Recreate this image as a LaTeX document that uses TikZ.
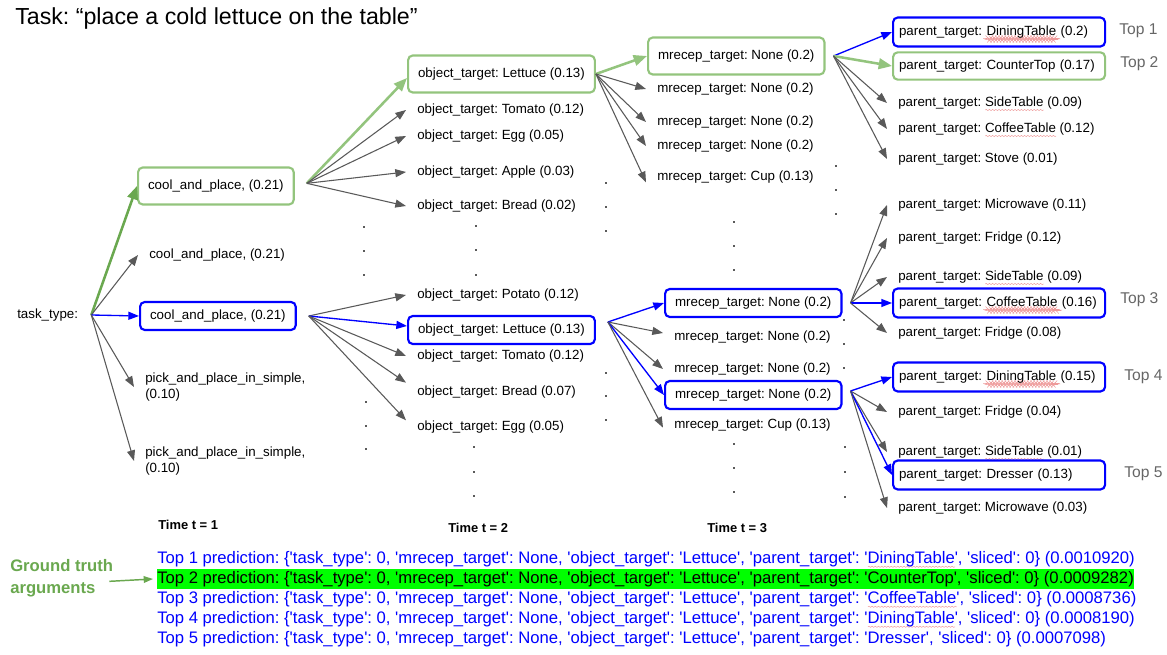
\documentclass[tikz,border=0pt]{standalone}
\usepackage{fontspec}
\setmainfont{Liberation Sans}
\usetikzlibrary{arrows.meta,decorations.pathmorphing}
\definecolor{gbox}{HTML}{93C47D}
\definecolor{gdark}{HTML}{6AA84F}
\definecolor{garr}{HTML}{595959}
\definecolor{dotc}{HTML}{5A5A5A}
\definecolor{topc}{HTML}{666666}
\definecolor{sqred}{HTML}{EE9A9A}
\definecolor{hl}{HTML}{00FF00}
\frenchspacing
\newsavebox\sqbox
\newlength\sqlen
\newcommand\sqw[1]{\leavevmode\sbox\sqbox{#1}\setlength\sqlen{\wd\sqbox}%
  \smash{\rlap{\raisebox{-2.6pt}{\tikz[baseline=0pt]\draw[sqred,line width=0.35pt,decorate,decoration={snake,amplitude=0.45pt,segment length=2.4pt}] (0pt,0pt) -- (\sqlen,0pt);}}}\usebox\sqbox}
\newcommand\qt[1]{\textquotesingle#1\textquotesingle}
\begin{document}
\begin{tikzpicture}[x=0.75pt,y=-0.75pt,
  base/.style={font=\fontsize{10}{12}\selectfont, anchor=west, align=left},
  lbl/.style={base, inner xsep=8.25pt, inner ysep=2pt, text height=7.5pt, text depth=2.2pt},
  lbltwo/.style={base, inner xsep=8.25pt, inner ysep=2pt},
  bx/.style={lbl, inner xsep=7.5pt, rounded corners=3.5pt, line width=1.6pt},
  gb/.style={bx, draw=gbox, minimum height=27.75pt},
  bb/.style={bx, draw=blue, minimum height=21pt},
  pbx/.style={lbl, text width=150pt, inner xsep=4.5pt, rounded corners=3.5pt, line width=1.6pt},
  pb/.style={pbx, draw=blue, minimum height=21.75pt},
  pg/.style={pbx, draw=gbox, minimum height=20.5pt},
  gra/.style={draw=garr, line width=0.8pt, -{Triangle[length=8pt,width=6pt]}},
  bla/.style={draw=blue, line width=1pt, -{Triangle[length=8pt,width=6pt]}},
  ga/.style={draw=gbox, line width=1.9pt, -{Triangle[length=10pt,width=8pt]}},
  gad/.style={draw=gdark, line width=1.9pt, -{Triangle[length=10pt,width=8pt]}},
  timel/.style={font=\bfseries\fontsize{9.7}{12}\selectfont, anchor=west, inner sep=0},
  topl/.style={font=\fontsize{11.7}{14}\selectfont, text=topc, anchor=west, inner sep=0},
  pred/.style={font=\fontsize{12.5}{15}\selectfont, anchor=west, inner xsep=0, inner ysep=1.25pt, text height=9.5pt, text depth=3pt}
]
\useasboundingbox (0,0) rectangle (1167,655);

% title
\node[font=\fontsize{17.4}{20}\selectfont, anchor=base west, inner sep=0] (title) at (15,25) {Task: “place a cold lettuce on the table”};

% column 0/1
\node[lbl, inner xsep=9.75pt] (task) at (4,315) {task\_type:};
\node[gb] (c1g) at (137,186) {cool\_and\_place, (0.21)};
\node[lbl] (c1a) at (138,255) {cool\_and\_place, (0.21)};
\node[bb] (c1b) at (139,316) {cool\_and\_place, (0.21)};
\node[lbltwo] (c1c) at (134,387) {pick\_and\_place\_in\_simple,\\(0.10)};
\node[lbltwo] (c1d) at (134,461) {pick\_and\_place\_in\_simple,\\(0.10)};

% column 2
\node[gb] (o1) at (407,74) {object\_target: Lettuce (0.13)};
\node[lbl] (o2) at (406,110) {object\_target: Tomato (0.12)};
\node[lbl] (o3) at (406,136) {object\_target: Egg (0.05)};
\node[lbl] (o4) at (406,172) {object\_target: Apple (0.03)};
\node[lbl] (o5) at (406,206) {object\_target: Bread (0.02)};
\node[lbl] (o6) at (406,295) {object\_target: Potato (0.12)};
\node[bb] (o7) at (407,330) {object\_target: Lettuce (0.13)};
\node[lbl] (o8) at (406,356) {object\_target: Tomato (0.12)};
\node[lbl] (o9) at (406,392) {object\_target: Bread (0.07)};
\node[lbl] (o10) at (406,427) {object\_target: Egg (0.05)};

% column 3
\node[gb] (m1) at (647,56) {mrecep\_target: None (0.2)};
\node[lbl] (m2) at (646,89) {mrecep\_target: None (0.2)};
\node[lbl] (m3) at (646,122) {mrecep\_target: None (0.2)};
\node[lbl] (m4) at (646,146) {mrecep\_target: None (0.2)};
\node[lbl] (m5) at (646,177) {mrecep\_target: Cup (0.13)};
\node[bb] (m6) at (664,303) {mrecep\_target: None (0.2)};
\node[lbl] (m7) at (663,337) {mrecep\_target: None (0.2)};
\node[lbl] (m8) at (663,369) {mrecep\_target: None (0.2)};
\node[bb] (m9) at (664,395) {mrecep\_target: None (0.2)};
\node[lbl] (m10) at (663,425) {mrecep\_target: Cup (0.13)};

% column 4
\node[pb] (p1) at (892,32) {parent\_target: \sqw{DiningTable} (0.2)};
\node[pg] (p2) at (892,66) {parent\_target: CounterTop (0.17)};
\node[lbl] (p3) at (887,103) {parent\_target: \sqw{SideTable} (0.09)};
\node[lbl] (p4) at (887,129) {parent\_target: \sqw{CoffeeTable} (0.12)};
\node[lbl] (p5) at (887,159) {parent\_target: Stove (0.01)};
\node[lbl] (p6) at (887,205) {parent\_target: Microwave (0.11)};
\node[lbl] (p7) at (887,238) {parent\_target: Fridge (0.12)};
\node[lbl] (p8) at (887,277) {parent\_target: \sqw{SideTable} (0.09)};
\node[pb] (p9) at (892,303) {parent\_target: \sqw{CoffeeTable} (0.16)};
\node[lbl] (p10) at (887,333) {parent\_target: Fridge (0.08)};
\node[pb] (p11) at (892,377) {parent\_target: \sqw{DiningTable} (0.15)};
\node[lbl] (p12) at (887,412) {parent\_target: Fridge (0.04)};
\node[lbl] (p13) at (887,452) {parent\_target: \sqw{SideTable} (0.01)};
\node[pb] (p14) at (892,475) {parent\_target: Dresser (0.13)};
\node[lbl] (p15) at (887,508) {parent\_target: Microwave (0.03)};

% top labels
\node[topl] (t1) at (1119,31) {Top 1};
\node[topl] (t2) at (1120,64) {Top 2};
\node[topl] (t3) at (1120,300) {Top 3};
\node[topl] (t4) at (1124,377) {Top 4};
\node[topl] (t5) at (1124,474) {Top 5};

% time labels
\node[timel] (tm1) at (158,525) {Time t = 1};
\node[timel] (tm2) at (448,528) {Time t = 2};
\node[timel] (tm3) at (707,528) {Time t = 3};

% arrows from task_type
\draw[gad] (task.east) -- (c1g.west);
\draw[gra] (task.east) -- (c1a.west);
\draw[bla] (task.east) -- (c1b.west);
\draw[gra] (task.east) -- (c1c.west);
\draw[gra] (task.east) -- (c1d.west);

% fan origins
\coordinate (f1) at ([xshift=9pt,yshift=2pt]c1g.east);
\coordinate (f2) at ([xshift=9pt]c1b.east);
\coordinate (f3) at (o1.east);
\coordinate (f4) at ([xshift=9pt,yshift=6pt]o7.east);
\coordinate (f5) at ([xshift=6pt]m1.east);
\coordinate (f6) at ([xshift=6pt]m6.east);
\coordinate (f7) at ([xshift=6pt,yshift=3pt]m9.east);

\draw[ga] (f1) -- ([yshift=-3pt]o1.west);
\draw[gra] (f1) -- (o2.west);
\draw[gra] (f1) -- (o3.west);
\draw[gra] (f1) -- (o4.west);
\draw[gra] (f1) -- (o5.west);

\draw[gra] (f2) -- (o6.west);
\draw[bla] (f2) -- ([yshift=3pt]o7.west);
\draw[gra] (f2) -- (o8.west);
\draw[gra] (f2) -- ([yshift=7pt]o9.west);
\draw[gra] (f2) -- ([yshift=5pt]o10.west);

\draw[ga] (f3) -- (m1.west);
\draw[gra] (f3) -- (m2.west);
\draw[gra] (f3) -- (m3.west);
\draw[gra] (f3) -- (m4.west);
\draw[gra] (f3) -- ([yshift=-4pt]m5.west);

\draw[bla] (f4) -- (m6.west);
\draw[gra] (f4) -- ([yshift=3pt]m7.west);
\draw[gra] (f4) -- (m8.west);
\draw[bla] (f4) -- (m9.west);
\draw[gra] (f4) -- ([yshift=-2pt]m10.west);

\draw[bla] (f5) -- (p1.west);
\draw[ga] (f5) -- (p2.west);
\draw[gra] (f5) -- (p3.west);
\draw[gra] (f5) -- (p4.west);
\draw[gra] (f5) -- (p5.west);

\draw[gra] (f6) -- (p6.west);
\draw[gra] (f6) -- (p7.west);
\draw[gra] (f6) -- (p8.west);
\draw[bla] (f6) -- (p9.west);
\draw[gra] (f6) -- (p10.west);

\draw[bla] (f7) -- (p11.west);
\draw[gra] (f7) -- (p12.west);
\draw[gra] (f7) -- (p13.west);
\draw[bla] (f7) -- (p14.west);
\draw[gra] (f7) -- (p15.west);

% ellipsis dots
\foreach \px/\py in {364/227,364/251,364/275, 476/226,476/250,476/275,
  606/183,606/207,606/231, 734/222,734/246,734/270, 836/166,836/190,836/214,
  366/402,366/426,366/449, 474/447,474/472,474/496, 606/373,606/396,606/420,
  734/444,734/468,734/492, 844/320,844/344,844/368, 845/447,845/472,845/497}
  \fill[dotc] (\px-1.2,\py-1.2) rectangle ++(2.5,2.5);

% bottom predictions
\node[pred, text=blue] (l1) at (157,559) {Top 1 prediction: \{\qt{task\_type}: 0, \qt{mrecep\_target}: None, \qt{object\_target}: \qt{Lettuce}, \qt{parent\_target}: \qt{\sqw{DiningTable}}, \qt{sliced}: 0\} (0.0010920)};
\node[pred, fill=hl, text=black] (l2) at (157,579) {Top 2 prediction: \{\qt{task\_type}: 0, \qt{mrecep\_target}: None, \qt{object\_target}: \qt{Lettuce}, \qt{parent\_target}: \qt{CounterTop}, \qt{sliced}: 0\} (0.0009282)};
\node[pred, text=blue] (l3) at (157,599) {Top 3 prediction: \{\qt{task\_type}: 0, \qt{mrecep\_target}: None, \qt{object\_target}: \qt{Lettuce}, \qt{parent\_target}: \qt{\sqw{CoffeeTable}}, \qt{sliced}: 0\} (0.0008736)};
\node[pred, text=blue] (l4) at (157,619) {Top 4 prediction: \{\qt{task\_type}: 0, \qt{mrecep\_target}: None, \qt{object\_target}: \qt{Lettuce}, \qt{parent\_target}: \qt{\sqw{DiningTable}}, \qt{sliced}: 0\} (0.0008190)};
\node[pred, text=blue] (l5) at (157,639) {Top 5 prediction: \{\qt{task\_type}: 0, \qt{mrecep\_target}: None, \qt{object\_target}: \qt{Lettuce}, \qt{parent\_target}: \qt{Dresser}, \qt{sliced}: 0\} (0.0007098)};

% ground truth
\node[font=\bfseries\fontsize{12.5}{16.5}\selectfont, text=gdark, align=left, anchor=west, inner sep=0] (gt) at (10,578) {Ground truth\\arguments};
\draw[draw=gdark, line width=1.1pt, -{Triangle[length=7pt,width=5pt]}] ([shift={(-3pt,-2.5pt)}]gt.east) -- ([xshift=-3pt]l2.west);
\end{tikzpicture}
\end{document}
